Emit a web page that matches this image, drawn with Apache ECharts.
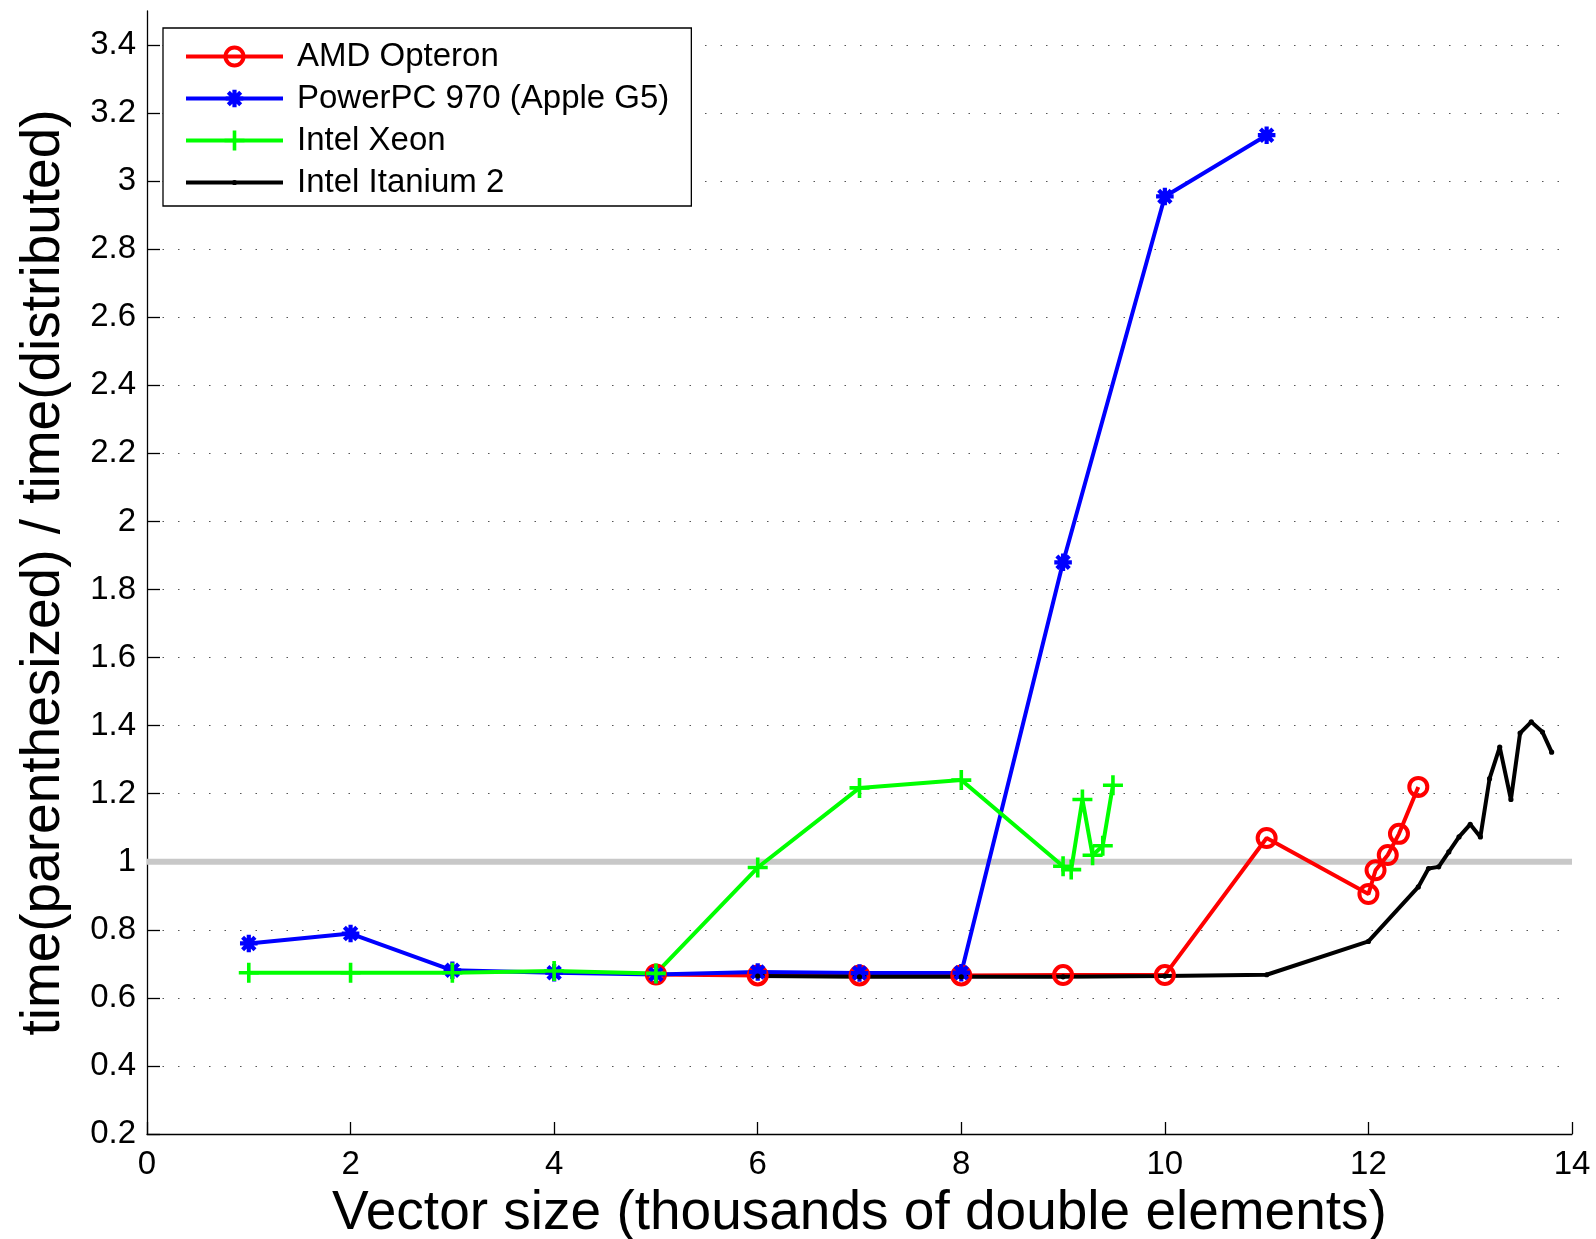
<!DOCTYPE html>
<html>
<head>
<meta charset="utf-8">
<script src="https://cdn.jsdelivr.net/npm/echarts@6/dist/echarts.min.js"></script>
<style>
html,body{margin:0;padding:0;background:#fff;}
#chart{width:1596px;height:1239px;}
</style>
</head>
<body>
<div id="chart"></div>
<script>
// ---- data ----
const seriesNames = ['AMD Opteron', 'PowerPC 970 (Apple G5)', 'Intel Xeon', 'Intel Itanium 2'];

const xOpteron = [5, 6, 7, 8, 9, 10, 11, 12, 12.07, 12.19, 12.3, 12.49];
const yOpteron = [0.669, 0.666, 0.666, 0.666, 0.667, 0.667, 1.07, 0.905, 0.975, 1.02, 1.082, 1.22];

const xPowerPC = [1, 2, 3, 4, 5, 6, 7, 8, 9, 10, 11];
const yPowerPC = [0.76, 0.789, 0.681, 0.674, 0.669, 0.676, 0.673, 0.674, 1.88, 2.955, 3.135];

const xXeon = [1, 2, 3, 4, 5, 6, 7, 8, 9, 9.08, 9.19, 9.29, 9.39, 9.49];
const yXeon = [0.674, 0.674, 0.674, 0.679, 0.672, 0.983, 1.217, 1.24, 0.987, 0.977, 1.183, 1.019, 1.047, 1.225];

const xItanium = [6, 7, 8, 9, 10, 11, 12, 12.49, 12.59, 12.69, 12.79, 12.89, 13.0, 13.1, 13.19, 13.29, 13.4, 13.49, 13.6, 13.71, 13.8];
const yItanium = [0.664, 0.662, 0.662, 0.662, 0.664, 0.668, 0.766, 0.926, 0.98, 0.985, 1.029, 1.073, 1.11, 1.073, 1.244, 1.337, 1.183, 1.378, 1.411, 1.381, 1.322];

const refX = [0, 14];
const refY = [1, 1];

const xTicks = [0, 2, 4, 6, 8, 10, 12, 14];
const yTicks = [0.2, 0.4, 0.6, 0.8, 1, 1.2, 1.4, 1.6, 1.8, 2, 2.2, 2.4, 2.6, 2.8, 3, 3.2, 3.4];

const xName = 'Vector size (thousands of double elements)';
const yName = 'time(parenthesized) / time(distributed)';

// ---- helpers ----
function pairs(xs, ys) { return xs.map((x, i) => [x, ys[i]]); }

// all marker paths share a +-11 bounding box (invisible corner points), so 1 unit = 1px at size 22
const BOX = 'M-11,-11 L-11,-11 Z M11,11 L11,11 Z ';
const ringPath = 'path://' + BOX + 'M0,-11 A11,11 0 1,1 0,11 A11,11 0 1,1 0,-11 Z M0,-7 A7,7 0 1,0 0,7 A7,7 0 1,0 0,-7 Z';
const plusPath = 'path://' + BOX + 'M-1.8,-10 L1.8,-10 L1.8,-1.8 L10,-1.8 L10,1.8 L1.8,1.8 L1.8,10 L-1.8,10 L-1.8,1.8 L-10,1.8 L-10,-1.8 L-1.8,-1.8 Z';
const starPath = 'path://' + BOX +
  'M-8.8,-2.1 L8.8,-2.1 L8.8,2.1 L-8.8,2.1 Z ' +
  'M-2.1,-8.8 L2.1,-8.8 L2.1,8.8 L-2.1,8.8 Z ' +
  'M-4.7,-7.7 L7.7,4.7 L4.7,7.7 L-7.7,-4.7 Z ' +
  'M-7.7,4.7 L4.7,-7.7 L7.7,-4.7 L-4.7,7.7 Z';
const dotPath = 'path://' + BOX + 'M0,-2.6 A2.6,2.6 0 1,1 0,2.6 A2.6,2.6 0 1,1 0,-2.6 Z';

const FONT = '"Liberation Sans", Arial, Helvetica, sans-serif';
const LW = 4;
const SYM = 22;

function lineSeries(name, xs, ys, color, symbol) {
  return {
    name: name,
    type: 'line',
    data: pairs(xs, ys),
    symbol: symbol,
    symbolSize: SYM,
    showSymbol: true,
    showAllSymbol: true,
    clip: false,
    lineStyle: { color: color, width: LW },
    itemStyle: { color: color, borderWidth: 0 },
    emphasis: { disabled: true },
    animation: false
  };
}

const chart = echarts.init(document.getElementById('chart'), null, { renderer: 'canvas' });

const option = {
  backgroundColor: '#ffffff',
  animation: false,
  textStyle: { fontFamily: FONT, color: '#000' },
  grid: { left: 147, right: 24, top: 11, bottom: 105, containLabel: false, outerBoundsMode: 'none' },
  legend: {
    data: seriesNames,
    orient: 'vertical',
    left: 163,
    top: 28,
    padding: [12, 22, 7, 21],
    itemWidth: 97,
    itemHeight: 27.5,
    itemGap: 9,
    backgroundColor: '#ffffff',
    borderColor: '#000000',
    borderWidth: 1.3,
    borderRadius: 0,
    selectedMode: false,
    lineStyle: { width: LW },
    textStyle: { fontFamily: FONT, fontSize: 33, color: '#000', padding: [0, 0, 0, 9] }
  },
  xAxis: {
    type: 'value',
    min: 0,
    max: 14,
    interval: 2,
    name: xName,
    nameLocation: 'middle',
    nameGap: 52,
    nameTextStyle: { fontFamily: FONT, fontSize: 55, color: '#000' },
    axisLine: { show: true, onZero: false, lineStyle: { color: '#000', width: 1.3 } },
    axisTick: { show: true, inside: true, length: 12, lineStyle: { color: '#000', width: 1.3 }, customValues: xTicks },
    axisLabel: { fontFamily: FONT, fontSize: 33, color: '#000', margin: 14, customValues: xTicks },
    splitLine: { show: false }
  },
  yAxis: {
    type: 'value',
    min: 0.2,
    max: 3.5,
    interval: 0.2,
    name: yName,
    nameLocation: 'middle',
    nameGap: 76,
    nameTextStyle: { fontFamily: FONT, fontSize: 55, color: '#000' },
    axisLine: { show: true, onZero: false, lineStyle: { color: '#000', width: 1.3 } },
    axisTick: { show: true, inside: true, length: 13, lineStyle: { color: '#000', width: 1.3 }, customValues: yTicks },
    axisLabel: {
      fontFamily: FONT, fontSize: 33, color: '#000', margin: 11, customValues: yTicks,
      formatter: function (v) { return v > 3.45 ? '' : String(+(+v).toFixed(1)); }
    },
    splitLine: { show: true, lineStyle: { color: '#555', width: 1.2, type: [1.5, 14] } }
  },
  series: [
    {
      name: 'ref',
      type: 'line',
      data: pairs(refX, refY),
      symbol: 'none',
      lineStyle: { color: '#c8c8c8', width: 6 },
      silent: true,
      animation: false
    },
    lineSeries(seriesNames[0], xOpteron, yOpteron, '#ff0000', ringPath),
    lineSeries(seriesNames[1], xPowerPC, yPowerPC, '#0000ff', starPath),
    lineSeries(seriesNames[2], xXeon, yXeon, '#00ff00', plusPath),
    lineSeries(seriesNames[3], xItanium, yItanium, '#000000', dotPath)
  ]
};

chart.setOption(option);
</script>
</body>
</html>
